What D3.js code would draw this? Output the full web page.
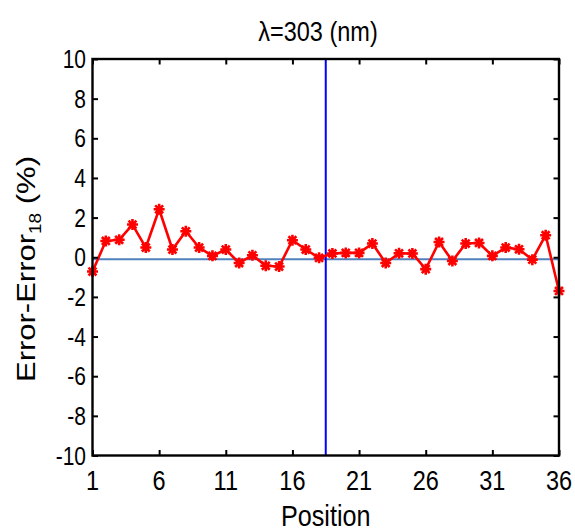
<!DOCTYPE html>
<html>
<head>
<meta charset="utf-8">
<script src="https://cdn.jsdelivr.net/npm/d3@7"></script>
<style>
  html, body { margin: 0; padding: 0; background: #fff; }
  svg { display: block; font-family: Arial, "Liberation Sans", sans-serif; }
</style>
</head>
<body>
<svg id="chart" width="575" height="532"></svg>
<script>
// Error difference relative to position 18, per position, at 303 nm
const positions = d3.range(1, 37);
const errorDiff = [
  -0.72, 0.82, 0.88, 1.65, 0.49, 2.42, 0.39, 1.31, 0.49, 0.07,
  0.39, -0.29, 0.10, -0.43, -0.47, 0.86, 0.39, -0.03, 0.19, 0.22,
  0.22, 0.69, -0.29, 0.20, 0.19, -0.60, 0.77, -0.19, 0.69, 0.72,
  0.07, 0.49, 0.40, -0.12, 1.11, -1.70
];
const xTickValues = [1, 6, 11, 16, 21, 26, 31, 36];
const yTickValues = [-10, -8, -6, -4, -2, 0, 2, 4, 6, 8, 10];
const referenceLevel = -0.1;   // horizontal reference line
const markerPosition = 18.5;   // vertical marker line

const svg = d3.select("#chart");
const plotLeft = 92.5, plotRight = 559, plotTop = 59, plotBottom = 455.5;
const sx = 0.84; // narrow glyph width

const x = d3.scaleLinear().domain([1, 36]).range([plotLeft, plotRight]);
const y = d3.scaleLinear().domain([-10, 10]).range([plotBottom, plotTop]);

// reference lines
svg.append("line")
  .attr("x1", x(1)).attr("x2", x(36))
  .attr("y1", y(referenceLevel)).attr("y2", y(referenceLevel))
  .attr("stroke", "#4f81bd").attr("stroke-width", 2);

svg.append("line")
  .attr("x1", x(markerPosition)).attr("x2", x(markerPosition))
  .attr("y1", y(-10)).attr("y2", y(10))
  .attr("stroke", "#0000ff").attr("stroke-width", 2);

// data line
const line = d3.line().x((d, i) => x(positions[i])).y(d => y(d));
svg.append("path")
  .datum(errorDiff)
  .attr("d", line)
  .attr("fill", "none")
  .attr("stroke", "#ff0000")
  .attr("stroke-width", 2.6)
  .attr("stroke-linejoin", "round");

// asterisk markers
const r = 5.5, rd = r * 0.72;
const star = `M0,${-r}L0,${r}M${-r},0L${r},0M${-rd},${-rd}L${rd},${rd}M${-rd},${rd}L${rd},${-rd}`;
svg.append("g").selectAll("path")
  .data(errorDiff)
  .join("path")
  .attr("transform", (d, i) => `translate(${x(positions[i])},${y(d)})`)
  .attr("d", star)
  .attr("fill", "none")
  .attr("stroke", "#ff0000")
  .attr("stroke-width", 2.6);

// axes with inward ticks on all four sides
const tick = 5.5;
const axisStyle = g => {
  g.select(".domain").remove();
  g.selectAll(".tick line").attr("stroke", "#000").attr("stroke-width", 2);
  g.selectAll(".tick text").remove();
};
svg.append("g").attr("transform", `translate(0,${plotBottom})`)
  .call(d3.axisBottom(x).tickValues(xTickValues).tickSize(-tick)).call(axisStyle);
svg.append("g").attr("transform", `translate(0,${plotTop})`)
  .call(d3.axisTop(x).tickValues(xTickValues).tickSize(-tick)).call(axisStyle);
svg.append("g").attr("transform", `translate(${plotLeft},0)`)
  .call(d3.axisLeft(y).tickValues(yTickValues).tickSize(-tick)).call(axisStyle);
svg.append("g").attr("transform", `translate(${plotRight},0)`)
  .call(d3.axisRight(y).tickValues(yTickValues).tickSize(-tick)).call(axisStyle);

// frame
svg.append("rect")
  .attr("x", plotLeft).attr("y", plotTop)
  .attr("width", plotRight - plotLeft).attr("height", plotBottom - plotTop)
  .attr("fill", "none").attr("stroke", "#000").attr("stroke-width", 2.4);

// tick labels
svg.append("g").selectAll("text")
  .data(xTickValues)
  .join("text")
  .attr("transform", d => `translate(${x(d)},490) scale(${sx},1)`)
  .attr("text-anchor", "middle")
  .attr("font-size", 28)
  .text(d => d);

svg.append("g").selectAll("text")
  .data(yTickValues)
  .join("text")
  .attr("transform", d => `translate(86,${y(d) + 9}) scale(${sx},1)`)
  .attr("text-anchor", "end")
  .attr("font-size", 25)
  .text(d => d);

// title
svg.append("text")
  .attr("transform", `translate(318,41) scale(${sx},1)`)
  .attr("text-anchor", "middle")
  .attr("font-size", 28)
  .text("λ=303 (nm)");

// x axis label
svg.append("text")
  .attr("transform", `translate(${(plotLeft + plotRight) / 2},526) scale(${sx},1)`)
  .attr("text-anchor", "middle")
  .attr("font-size", 30)
  .text("Position");

// y axis label with subscript
const yl = svg.append("text")
  .attr("transform", `translate(35,269) scale(${sx},1) rotate(-90)`)
  .attr("text-anchor", "middle")
  .attr("font-size", 31);
yl.append("tspan").text("Error-Error");
yl.append("tspan").attr("font-size", 19).attr("dy", 7).text("18");
yl.append("tspan").attr("dy", -7).text(" (%)");
</script>
</body>
</html>
